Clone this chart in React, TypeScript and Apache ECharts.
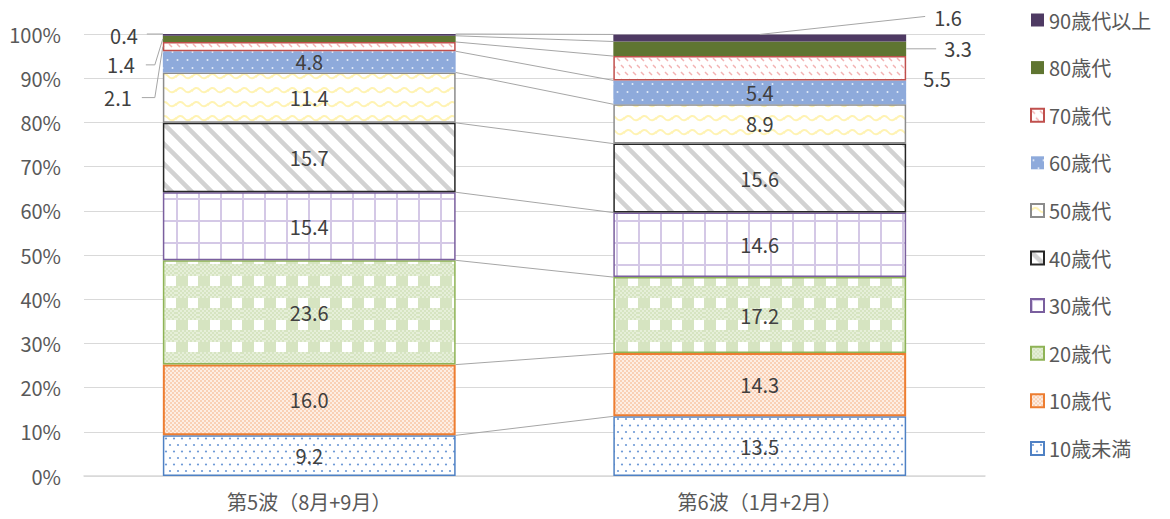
import React, { useEffect, useRef } from 'react';
import * as echarts from 'echarts';

const categories = ['第5波（8月+9月）', '第6波（1月+2月）'];
const ageGroups = ['10歳未満', '10歳代', '20歳代', '30歳代', '40歳代', '50歳代', '60歳代', '70歳代', '80歳代', '90歳代以上'];
const wave5 = [9.2, 16.0, 23.6, 15.4, 15.7, 11.4, 4.8, 2.1, 1.4, 0.4];
const wave6 = [13.5, 14.3, 17.2, 14.6, 15.6, 8.9, 5.4, 5.5, 3.3, 1.6];
const waves = [wave5, wave6];

// labels drawn outside the bar with a leader line: [wave index, segment index, layout]
const callouts: [number, number, string][] = [
  [0, 9, 'L0'],
  [0, 8, 'L1'],
  [0, 7, 'L2'],
  [1, 9, 'R0'],
  [1, 8, 'R1'],
  [1, 7, 'R2'],
];

const FONT = '"Noto Sans CJK JP", "Noto Sans", sans-serif';
const LABEL_COLOR = '#404040';
const AXIS_COLOR = '#595959';
const LEADER = '#a6a6a6';
const BAR_RATIO = 0.65;

function pat(w: number, h: number, draw: (ctx: CanvasRenderingContext2D) => void) {
  const c = document.createElement('canvas');
  c.width = w;
  c.height = h;
  const ctx = c.getContext('2d')!;
  draw(ctx);
  return { image: c.toDataURL(), repeat: 'repeat', imageWidth: w, imageHeight: h } as any;
}

function dot(ctx: CanvasRenderingContext2D, x: number, y: number, r: number) {
  ctx.beginPath();
  ctx.arc(x, y, r, 0, Math.PI * 2);
  ctx.fill();
}

function buildStyles() {
  return [
    {
      fill: pat(8, 13, (c) => {
        c.fillStyle = '#ffffff'; c.fillRect(0, 0, 8, 13);
        c.fillStyle = '#6f9ad6';
        dot(c, 2, 3, 1.1); dot(c, 6, 9.5, 1.1);
      }),
      border: '#4f81c4', bw: 1.5,
    },
    {
      fill: pat(4, 4, (c) => {
        c.fillStyle = '#fdeee4'; c.fillRect(0, 0, 4, 4);
        c.fillStyle = '#f9d0b5';
        c.fillRect(0, 0, 2, 2); c.fillRect(2, 2, 2, 2);
      }),
      border: '#ed7d31', bw: 2,
    },
    {
      fill: pat(22, 22, (c) => {
        c.fillStyle = '#ffffff'; c.fillRect(0, 0, 22, 22);
        for (let y = 0; y < 12; y += 2) for (let x = 0; x < 22; x += 2) {
          c.fillStyle = ((x + y) / 2) % 2 === 0 ? '#d6e4c1' : '#e6efd9';
          c.fillRect(x, y, 2, 2);
        }
        c.fillStyle = '#d6e4c1';
        c.fillRect(0, 12, 12, 10);
      }),
      border: '#8eb356', bw: 1.5,
    },
    {
      fill: pat(22, 22, (c) => {
        c.fillStyle = '#ffffff'; c.fillRect(0, 0, 22, 22);
        c.fillStyle = '#d4c8e6';
        c.fillRect(0, 0, 2, 22); c.fillRect(0, 0, 22, 2);
      }),
      border: '#7a5f9e', bw: 1.5,
    },
    {
      fill: pat(20, 20, (c) => {
        c.fillStyle = '#ffffff'; c.fillRect(0, 0, 20, 20);
        c.strokeStyle = '#d2d2d2'; c.lineWidth = 4.5;
        for (const o of [-20, 0, 20]) {
          c.beginPath(); c.moveTo(o - 2, -2); c.lineTo(o + 22, 22); c.stroke();
        }
      }),
      border: '#262626', bw: 1.5,
    },
    {
      fill: pat(16, 14, (c) => {
        c.fillStyle = '#ffffff'; c.fillRect(0, 0, 16, 14);
        c.strokeStyle = '#fff3b3'; c.lineWidth = 2;
        c.beginPath();
        c.moveTo(-1, 8);
        c.quadraticCurveTo(4, 1, 8, 6);
        c.quadraticCurveTo(12, 11, 17, 5);
        c.stroke();
      }),
      border: '#8c8c8c', bw: 1.5,
    },
    {
      fill: pat(10, 16, (c) => {
        c.fillStyle = '#8eaadb'; c.fillRect(0, 0, 10, 16);
        c.fillStyle = '#e4ecf8';
        dot(c, 2.5, 4, 1); dot(c, 7.5, 12, 1);
      }),
      border: '#8eaadb', bw: 0,
    },
    {
      fill: pat(8, 14, (c) => {
        c.fillStyle = '#ffffff'; c.fillRect(0, 0, 8, 14);
        c.strokeStyle = '#f3b3b3'; c.lineWidth = 1.5;
        c.beginPath(); c.moveTo(1, 2); c.lineTo(4, 5); c.stroke();
        c.beginPath(); c.moveTo(5, 9); c.lineTo(8, 12); c.stroke();
      }),
      border: '#c0504d', bw: 1.5,
    },
    { fill: '#5f7531', border: '#5f7531', bw: 0 },
    { fill: '#4e3a63', border: '#4e3a63', bw: 0 },
  ];
}

function cumulative(values: number[]) {
  const out: number[] = [];
  let s = 0;
  for (const v of values) { s += v; out.push(s); }
  return out;
}

export default function App() {
  const ref = useRef<HTMLDivElement>(null);

  useEffect(() => {
    if (!ref.current) return;
    const chart = echarts.init(ref.current, undefined, { renderer: 'svg' });
    const styles = buildStyles();
    const cums = waves.map(cumulative);
    const isOutside = (w: number, k: number) => callouts.some((c) => c[0] === w && c[1] === k);

    const barSeries = ageGroups.map((name, k) => ({
      name,
      type: 'bar',
      stack: 'total',
      barWidth: BAR_RATIO * 100 + '%',
      itemStyle: { color: styles[k].fill, borderColor: styles[k].border, borderWidth: styles[k].bw },
      emphasis: { disabled: true },
      label: {
        show: true,
        position: 'inside',
        color: LABEL_COLOR,
        fontSize: 20,
        fontFamily: FONT,
        formatter: (p: any) => Number(p.value).toFixed(1),
      },
      data: waves.map((w, i) => (isOutside(i, k) ? { value: w[k], label: { show: false } } : { value: w[k] })),
      z: 3,
    }));

    const connectorSeries = {
      type: 'custom',
      name: 'connectors',
      coordinateSystem: 'cartesian2d',
      silent: true,
      z: 1,
      encode: { x: 0, y: 1 },
      data: ageGroups.map((_, k) => [0, cums[0][k], cums[1][k]]),
      renderItem: (_params: any, api: any) => {
        const p1 = api.coord([0, api.value(1)]);
        const p2 = api.coord([1, api.value(2)]);
        const half = (api.size([1, 0])[0] * BAR_RATIO) / 2;
        return {
          type: 'line',
          shape: { x1: p1[0] + half, y1: p1[1], x2: p2[0] - half, y2: p2[1] },
          style: { stroke: LEADER, lineWidth: 1 },
        };
      },
    };

    const calloutSeries = {
      type: 'custom',
      name: 'callouts',
      coordinateSystem: 'cartesian2d',
      silent: true,
      z: 4,
      encode: { x: 0, y: 1 },
      data: callouts.map(([w, k]) => [w, k === 0 ? 0 : cums[w][k - 1], cums[w][k], waves[w][k]]),
      renderItem: (params: any, api: any) => {
        const [w, , layout] = callouts[params.dataIndex];
        const bot = api.value(1);
        const top = api.value(2);
        const val = api.value(3);
        const pm = api.coord([w, (bot + top) / 2]);
        const pt = api.coord([w, top]);
        const half = (api.size([1, 0])[0] * BAR_RATIO) / 2;
        const cx = pm[0];
        const L = cx - half;
        const R = cx + half;
        const my = pm[1];
        const ty = pt[1];
        let tx = 0, tyy = 0, align = 'left';
        let pts: number[][] | null = null;
        if (layout === 'L0') { tx = L - 25; tyy = my + 1; align = 'right'; pts = [[L - 16, ty], [L, ty]]; }
        if (layout === 'L1') { tx = L - 28; tyy = my + 26; align = 'right'; pts = [[L - 17, tyy], [L - 8, tyy], [L, my]]; }
        if (layout === 'L2') { tx = L - 31; tyy = my + 51; align = 'right'; pts = [[L - 21, tyy], [L - 8, tyy], [L, my]]; }
        if (layout === 'R0') { tx = R + 28; tyy = ty - 17; align = 'left'; pts = [[cx, ty], [R + 19, tyy - 1]]; }
        if (layout === 'R1') { tx = R + 38; tyy = my; align = 'left'; pts = [[R, my], [R + 30, my]]; }
        if (layout === 'R2') { tx = R + 17; tyy = my + 10; align = 'left'; pts = null; }
        const children: any[] = [
          {
            type: 'text',
            x: tx,
            y: tyy,
            style: {
              text: Number(val).toFixed(1),
              fill: LABEL_COLOR,
              fontSize: 20,
              fontFamily: FONT,
              align,
              verticalAlign: 'middle',
              textAlign: align,
              textVerticalAlign: 'middle',
            },
          },
        ];
        if (pts) {
          children.push({
            type: 'polyline',
            shape: { points: pts },
            style: { stroke: LEADER, lineWidth: 1, fill: null },
          });
        }
        return { type: 'group', children };
      },
    };

    chart.setOption({
      animation: false,
      grid: { left: 84, right: 185, top: 34, bottom: 43, containLabel: false },
      legend: {
        orient: 'vertical',
        left: 1025,
        top: 5,
        itemWidth: 13,
        itemHeight: 13,
        itemGap: 27.6,
        icon: 'rect',
        selectedMode: false,
        data: [...ageGroups].reverse(),
        textStyle: { color: AXIS_COLOR, fontSize: 20, lineHeight: 20, fontFamily: FONT },
      },
      xAxis: {
        type: 'category',
        data: categories,
        axisLine: { lineStyle: { color: '#d9d9d9', width: 1.5 } },
        axisTick: { show: false },
        axisLabel: { color: AXIS_COLOR, fontSize: 20, fontFamily: FONT, margin: 15 },
      },
      yAxis: {
        type: 'value',
        min: 0,
        max: 100,
        interval: 10,
        axisLine: { show: false },
        axisTick: { show: false },
        axisLabel: { color: AXIS_COLOR, fontSize: 20, fontFamily: FONT, margin: 23, formatter: '{value}%' },
        splitLine: { lineStyle: { color: '#d9d9d9', width: 1 } },
      },
      series: [connectorSeries, ...barSeries, calloutSeries],
    } as any);

    return () => chart.dispose();
  }, []);

  return (
    <div
      ref={ref}
      style={{ position: 'fixed', left: 0, top: 0, width: 1170, height: 519, background: '#ffffff' }}
    />
  );
}
